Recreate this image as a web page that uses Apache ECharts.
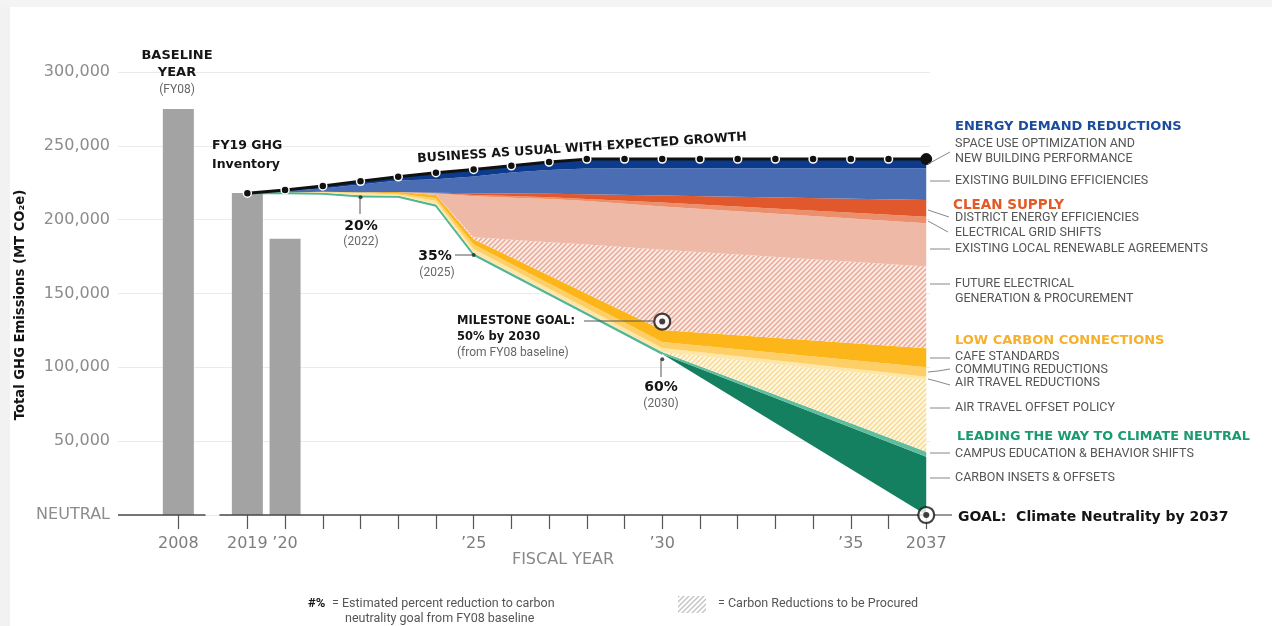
<!DOCTYPE html>
<html><head><meta charset="utf-8">
<script src="https://cdn.jsdelivr.net/npm/echarts@6/dist/echarts.min.js"></script>
<style>html,body{margin:0;padding:0;background:#fff}#c{width:1272px;height:626px}</style>
</head><body><div id="c"></div>
<script>
// ---------- DATA ----------
const barYears = [2008, 2019, 2020];
const barValues = [275000, 218000, 187000];

const bauYears = [2019,2020,2021,2022,2023,2024,2025,2026,2027,2028,2029,2030,2031,2032,2033,2034,2035,2036,2037];
const bauValues = [217900,220100,222800,226000,229000,231800,234000,236500,239000,241000,241000,241000,241000,241000,241000,241000,241000,241000,241000];

// years at which the wedge boundaries were read
const wedgeYears = [2019,2020,2021,2022,2023,2024,2025,2026,2027,2028,2030,2037];
// upper edge of each wedge (MT CO2e)
const topSpaceUse       = [217900,220100,222800,226000,229000,231800,234000,236500,239000,241000,241000,241000];
const topExistingBldg   = [217900,219800,221100,223800,226500,227300,229200,231900,233600,234600,234800,234800];
const topDistrictEnergy = [217900,218400,218900,218500,218700,218300,217900,217700,217500,217200,216400,213300];
const topGridShifts     = [217900,218400,218900,218500,218700,217900,216700,216000,215200,214000,211600,202000];
const topLocalRenew     = [217900,218400,218900,218500,218700,217700,215800,214900,214000,212600,208900,197500];
const topFutureGen      = [217900,218400,218900,218500,218700,216700,188100,186400,184700,183100,179700,168200];
const topCafe           = [217900,218400,218900,218500,218700,216700,186700,174500,162200,149900,125300,112900];
const topCommuting      = [217900,218400,218900,218500,217700,214500,183200,170000,156800,143600,117200,100000];
const topAirReductions  = [217900,218300,218600,217900,217000,212800,180100,166700,153300,139900,113100, 93700];
const topAirOffset      = [217900,218100,218100,216500,216200,210300,177200,163800,150500,137100,110300, 91400];
const topCampus         = [217900,218100,218100,216500,216200,210300,177200,163800,150500,137100,110300, 42900];
const topInsets         = [217900,217900,217500,215600,215400,209300,176100,162700,149300,135900,109000, 39500];
const remaining         = [217900,217900,217500,215600,215400,209300,176100,162700,149300,135900,109000,     0];

const milestonePoints = [[2030, 131000], [2037, 0]];
const percentPoints = [[2022, 215200], [2025, 176000], [2030, 105500]];

const xTickYears = [2008,2019,2020,2021,2022,2023,2024,2025,2026,2027,2028,2029,2030,2031,2032,2033,2034,2035,2036,2037];
const xLabelYears = [2008, 2019, 2020, 2025, 2030, 2035, 2037];
const xLabelTexts = ['2008', '2019', '\u201920', '\u201925', '\u201930', '\u201935', '2037'];
const yTickValues = [0, 50000, 100000, 150000, 200000, 250000, 300000];
const yTickTexts = ['NEUTRAL', '50,000', '100,000', '150,000', '200,000', '250,000', '300,000'];

// ---------- STYLE / LAYOUT ----------
const X_MIN = 2006.4, X_MAX = 2037.1, BREAK_START = 2008.72, BREAK_END = 2018.26, BREAK_GAP = 0.37;
const FONT = 'Roboto, "Noto Sans", sans-serif';
const WIDE = '"DejaVu Sans", sans-serif';

function hatch(bg, fg, s, w) {
  s = s || 5; w = w || 1.4;
  const c = document.createElement('canvas'); c.width = s; c.height = s;
  const g = c.getContext('2d');
  g.fillStyle = bg; g.fillRect(0, 0, s, s);
  g.strokeStyle = fg; g.lineWidth = w;
  g.beginPath();
  g.moveTo(0, s); g.lineTo(s, 0);
  g.moveTo(-s/2, s/2); g.lineTo(s/2, -s/2);
  g.moveTo(s/2, s*1.5); g.lineTo(s*1.5, s/2);
  g.stroke();
  return { image: c, repeat: 'repeat' };
}

// bottom -> top
const layers = [
  { name: 'Carbon insets & offsets', top: topInsets, color: '#15805f' },
  { name: 'Campus education', top: topCampus, color: '#5dbd9d' },
  { name: 'Air travel offset policy', top: topAirOffset, color: hatch('#fff7e2', '#f7d88d') },
  { name: 'Air travel reductions', top: topAirReductions, color: '#fde6a8' },
  { name: 'Commuting reductions', top: topCommuting, color: '#fdcf66' },
  { name: 'CAFE standards', top: topCafe, color: '#fdb619' },
  { name: 'Future electrical generation', top: topFutureGen, color: hatch('#fcebe5', '#e9a592') },
  { name: 'Existing local renewable', top: topLocalRenew, color: '#efb9a7' },
  { name: 'Electrical grid shifts', top: topGridShifts, color: '#ec8f6c' },
  { name: 'District energy efficiencies', top: topDistrictEnergy, color: '#e0582b' },
  { name: 'Existing building efficiencies', top: topExistingBldg, color: '#4a6db4' },
  { name: 'Space use optimization', top: topSpaceUse, color: '#0c3a8c' }
];
const bounds = [remaining].concat(layers.map(l => l.top));

const series = [];
series.push({
  type: 'bar', name: 'Inventory', data: barYears.map((y, i) => [y, barValues[i]]),
  barWidth: 31, itemStyle: { color: '#a3a3a3' }, z: 2,
  markLine: {
    silent: true, symbol: 'none', label: { show: false },
    lineStyle: { color: '#4a4a4a', width: 1.5, type: 'solid' },
    data: [
      [{ coord: [X_MIN, 0] }, { coord: [BREAK_START, 0] }],
      [{ coord: [BREAK_END, 0] }, { coord: [X_MAX, 0] }]
    ]
  }
});
series.push({
  type: 'custom', name: 'Wedges', silent: true, z: 3,
  data: layers.map((l, i) => [wedgeYears[0], bounds[i][0]]),
  renderItem: function (params, api) {
    const i = params.dataIndex;
    const lo = bounds[i], hi = bounds[i + 1];
    const pts = [];
    for (let j = 0; j < wedgeYears.length; j++) pts.push(api.coord([wedgeYears[j], hi[j]]));
    for (let j = wedgeYears.length - 1; j >= 0; j--) pts.push(api.coord([wedgeYears[j], lo[j]]));
    return { type: 'polygon', shape: { points: pts }, style: { fill: layers[i].color } };
  }
});
// teal edge of the remaining-emissions trajectory up to 2030
series.push({
  type: 'line', name: 'Trajectory edge', silent: true, z: 4,
  data: wedgeYears.map((y, i) => [y, remaining[i]]).filter(d => d[0] <= 2030),
  symbol: 'none', lineStyle: { color: '#4fb595', width: 1.8 }
});
series.push({
  type: 'line', name: 'Business as usual',
  data: bauYears.map((y, i) => i === bauYears.length - 1
    ? { value: [y, bauValues[i]], symbolSize: 12, itemStyle: { borderWidth: 0 } }
    : [y, bauValues[i]]),
  lineStyle: { color: '#111', width: 3 }, symbol: 'circle', symbolSize: 8,
  itemStyle: { color: '#111', borderColor: '#fff', borderWidth: 1.5 }, z: 6
});
series.push({
  type: 'scatter', data: milestonePoints, symbol: 'circle', symbolSize: 16,
  itemStyle: { color: '#fff', borderColor: '#111', borderWidth: 2.2 }, z: 8
});
series.push({
  type: 'scatter', data: milestonePoints, symbol: 'circle', symbolSize: 6,
  itemStyle: { color: '#111' }, z: 9
});
series.push({
  type: 'scatter', data: percentPoints, symbol: 'circle', symbolSize: 4,
  itemStyle: { color: '#222' }, z: 9
});

function txt(text, x, y, opt) {
  opt = opt || {};
  return {
    type: 'text', x: x, y: y, rotation: opt.rot || 0, z: 100,
    style: {
      text: text, fill: opt.fill || '#555',
      font: (opt.bold ? 'bold ' : '') + (opt.size || 12.5) + 'px ' + (opt.font || FONT),
      align: opt.align || 'left', verticalAlign: 'middle'
    }
  };
}
function ln(x1, y1, x2, y2, c) {
  return { type: 'line', z: 100, shape: { x1, y1, x2, y2 }, style: { stroke: c || '#888', lineWidth: 1 } };
}
function pl(points, c) {
  return { type: 'polyline', z: 100, shape: { points }, style: { stroke: c || '#888', lineWidth: 1, fill: null } };
}
const B = { bold: true, fill: '#151515', font: WIDE };

const graphics = [
  { type: 'rect', z: -1, shape: { x: 0, y: 0, width: 10, height: 626 }, style: { fill: '#f2f2f2' } },
  { type: 'rect', z: -1, shape: { x: 0, y: 0, width: 1272, height: 7 }, style: { fill: '#f4f4f4' } },
  // y axis title
  txt('Total GHG Emissions (MT CO\u2082e)', 21, 305, Object.assign({}, B, { size: 13.2, align: 'center', rot: Math.PI / 2 })),
  // top-left
  txt('BASELINE', 177, 56, Object.assign({}, B, { size: 13, align: 'center' })),
  txt('YEAR', 177, 73, Object.assign({}, B, { size: 13, align: 'center' })),
  txt('(FY08)', 177, 90, { size: 12, fill: '#666', align: 'center' }),
  txt('FY19 GHG', 212, 146, Object.assign({}, B, { size: 12.5 })),
  txt('Inventory', 212, 165, Object.assign({}, B, { size: 12.5 })),
  txt('BUSINESS AS USUAL WITH EXPECTED GROWTH', 582, 148, Object.assign({}, B, { size: 12.5, align: 'center', rot: 3.8 * Math.PI / 180 })),
  // percent annotations
  ln(360, 199, 360, 214, '#555'),
  txt('20%', 361, 226, Object.assign({}, B, { size: 14, align: 'center' })),
  txt('(2022)', 361, 242, { size: 12, fill: '#666', align: 'center' }),
  ln(455, 255, 472, 255, '#555'),
  txt('35%', 435, 256, Object.assign({}, B, { size: 14, align: 'center' })),
  txt('(2025)', 437, 273, { size: 12, fill: '#666', align: 'center' }),
  ln(584, 321, 653, 321, '#555'),
  txt('MILESTONE GOAL:', 457, 321, Object.assign({}, B, { size: 11.5 })),
  txt('50% by 2030', 457, 337, Object.assign({}, B, { size: 11.5 })),
  txt('(from FY08 baseline)', 457, 353, { size: 12, fill: '#666' }),
  ln(661, 360, 661, 377, '#555'),
  txt('60%', 661, 387, Object.assign({}, B, { size: 14, align: 'center' })),
  txt('(2030)', 661, 404, { size: 12, fill: '#666', align: 'center' }),
  txt('FISCAL YEAR', 563, 560, { size: 16, fill: '#888', align: 'center', font: WIDE }),
  // right labels
  txt('ENERGY DEMAND REDUCTIONS', 955, 127, { bold: true, size: 13, fill: '#1c4c9c', font: WIDE }),
  txt('SPACE USE OPTIMIZATION AND', 955, 144),
  txt('NEW BUILDING PERFORMANCE', 955, 159),
  txt('EXISTING BUILDING EFFICIENCIES', 955, 181),
  txt('CLEAN SUPPLY', 953, 205, { bold: true, size: 13.5, fill: '#e35a26', font: WIDE }),
  txt('DISTRICT ENERGY EFFICIENCIES', 955, 218),
  txt('ELECTRICAL GRID SHIFTS', 955, 233),
  txt('EXISTING LOCAL RENEWABLE AGREEMENTS', 955, 249),
  txt('FUTURE ELECTRICAL', 955, 284),
  txt('GENERATION & PROCUREMENT', 955, 299),
  txt('LOW CARBON CONNECTIONS', 955, 341, { bold: true, size: 13, fill: '#f6b02c', font: WIDE }),
  txt('CAFE STANDARDS', 955, 357),
  txt('COMMUTING REDUCTIONS', 955, 370),
  txt('AIR TRAVEL REDUCTIONS', 955, 383),
  txt('AIR TRAVEL OFFSET POLICY', 955, 408),
  txt('LEADING THE WAY TO CLIMATE NEUTRAL', 957, 437, { bold: true, size: 12.8, fill: '#1a9a70', font: WIDE }),
  txt('CAMPUS EDUCATION & BEHAVIOR SHIFTS', 955, 454),
  txt('CARBON INSETS & OFFSETS', 955, 478),
  txt('GOAL:  Climate Neutrality by 2037', 958, 517, Object.assign({}, B, { size: 14 })),
  ln(928, 164, 950, 152), ln(930, 181, 950, 181), ln(928, 210, 949, 217), ln(928, 221, 948, 232),
  ln(930, 249, 950, 249), ln(930, 284, 950, 284), ln(930, 358, 950, 358),
  pl([[928, 372], [938, 371], [950, 369]]), pl([[928, 379], [936, 381], [950, 385]]),
  ln(930, 408, 950, 408), ln(930, 453, 950, 453), ln(930, 478, 950, 478),
  ln(934, 515, 952, 515, '#333'),
  // bottom legend
  txt('#%', 308, 604, { bold: true, size: 13, fill: '#151515' }),
  txt('= Estimated percent reduction to carbon', 332, 604, { size: 12.5, fill: '#555' }),
  txt('neutrality goal from FY08 baseline', 345, 619, { size: 12.5, fill: '#555' }),
  { type: 'rect', z: 100, shape: { x: 678, y: 596, width: 28, height: 17 }, style: { fill: hatch('#ffffff', '#c4c4c4') } },
  txt('= Carbon Reductions to be Procured', 718, 604, { size: 12.5, fill: '#555' })
];

const chart = echarts.init(document.getElementById('c'), null, { renderer: 'canvas' });
chart.setOption({
  animation: false,
  backgroundColor: '#ffffff',
  grid: { left: 118, right: 342, top: 72, bottom: 111, containLabel: false },
  xAxis: {
    type: 'value', min: X_MIN, max: X_MAX,
    breaks: [{ start: BREAK_START, end: BREAK_END, gap: BREAK_GAP }],
    breakArea: { show: false },
    axisLine: { show: false },
    splitLine: { show: false },
    axisTick: { show: true, customValues: xTickYears, length: 14, lineStyle: { color: '#555', width: 1.2 } },
    axisLabel: {
      customValues: xLabelYears,
      formatter: v => { const i = xLabelYears.indexOf(Math.round(v)); return i >= 0 ? xLabelTexts[i] : ''; },
      color: '#7d7d7d', fontSize: 16, margin: 21, fontFamily: WIDE
    }
  },
  yAxis: {
    type: 'value', min: 0, max: 300000, interval: 50000,
    axisLine: { show: false }, axisTick: { show: false },
    splitLine: { lineStyle: { color: '#ebebeb', width: 1 } },
    axisLabel: {
      formatter: v => { const i = yTickValues.indexOf(v); return i >= 0 ? yTickTexts[i] : ''; },
      color: '#8c8c8c', fontSize: 16, margin: 8, fontFamily: WIDE
    }
  },
  series: series,
  graphic: graphics
});
</script>
</body></html>
